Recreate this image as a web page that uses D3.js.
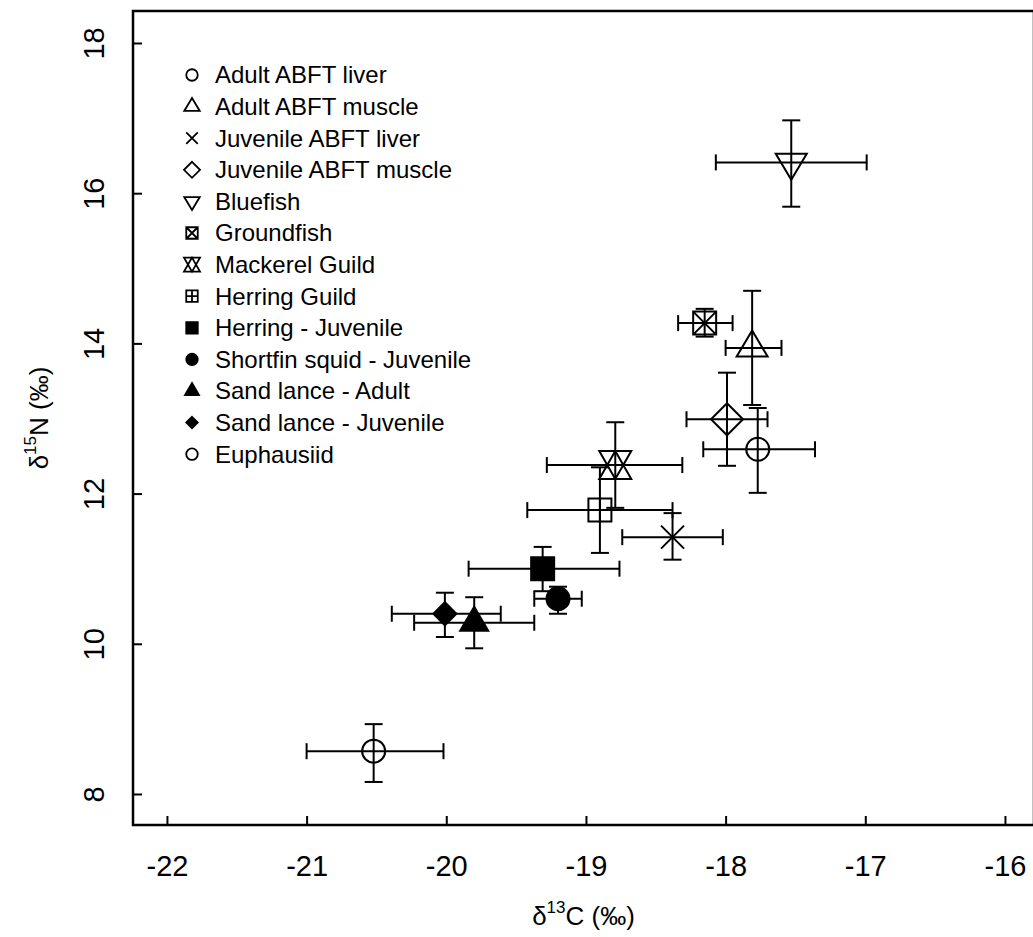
<!DOCTYPE html>
<html>
<head>
<meta charset="utf-8">
<script src="https://cdn.jsdelivr.net/npm/d3@7"></script>
<style>
  body { margin: 0; background: #fff; }
  svg { display: block; font-family: "Liberation Sans", Arial, sans-serif; }
</style>
</head>
<body>
<svg id="chart" width="1033" height="937"></svg>
<script>
// groups, in legend order
const groups = ["Adult ABFT liver", "Adult ABFT muscle", "Juvenile ABFT liver", "Juvenile ABFT muscle",
  "Bluefish", "Groundfish", "Mackerel Guild", "Herring Guild", "Herring - Juvenile",
  "Shortfin squid - Juvenile", "Sand lance - Adult", "Sand lance - Juvenile", "Euphausiid"];
const shapes = ["circle", "triangle", "cross", "diamond", "triDown", "sqX", "hexTri", "sqPlus",
  "sqFill", "circFill", "triFill", "diaFill", "circle"];

// means (per mil)
const d13C = [-17.77, -17.81, -18.38, -17.99, -17.53, -18.15, -18.79, -18.90, -19.31, -19.20, -19.80, -20.01, -20.52];
const d15N = [12.59, 13.94, 11.42, 12.99, 16.41, 14.27, 12.38, 11.78, 11.00, 10.60, 10.28, 10.40, 8.57];
// error bar ends
const cLo = [-18.16, -18.00, -18.74, -18.28, -18.07, -18.34, -19.28, -19.42, -19.84, -19.37, -20.23, -20.39, -21.00];
const cHi = [-17.36, -17.60, -18.02, -17.70, -16.99, -17.95, -18.31, -18.38, -18.76, -19.03, -19.37, -19.61, -20.02];
const nLo = [12.01, 13.18, 11.12, 12.37, 15.82, 14.09, 11.81, 11.21, 10.70, 10.40, 9.94, 10.09, 8.16];
const nHi = [13.14, 14.70, 11.74, 13.61, 16.97, 14.46, 12.95, 12.35, 11.29, 10.76, 10.62, 10.68, 8.93];

const xTicks = [-22, -21, -20, -19, -18, -17, -16];
const yTicks = [8, 10, 12, 14, 16, 18];

const box = {left: 133, right: 1034, top: 11, bottom: 825};

const x = d3.scaleLinear().domain([-22.243, -15.792]).range([box.left, box.right]);
const y = d3.scaleLinear().domain([7.587, 18.426]).range([box.bottom, box.top]);

const svg = d3.select("#chart");
const lw = 2;
const fmt = d => String(d); // plain hyphen minus, like the original

// plot frame
svg.append("rect")
  .attr("x", box.left).attr("y", box.top)
  .attr("width", box.right - box.left).attr("height", box.bottom - box.top)
  .attr("fill", "none").attr("stroke", "#000").attr("stroke-width", 2.5);

// axes with inward ticks
const xAxis = svg.append("g")
  .attr("transform", `translate(0,${box.bottom})`)
  .call(d3.axisBottom(x).tickValues(xTicks).tickSize(-9).tickPadding(30).tickFormat(fmt));
xAxis.select(".domain").remove();
xAxis.selectAll("line").attr("stroke-width", lw);
xAxis.selectAll("text").attr("font-size", 29).attr("font-family", "Liberation Sans, Arial, sans-serif");

const yAxis = svg.append("g")
  .attr("transform", `translate(${box.left},0)`)
  .call(d3.axisLeft(y).tickValues(yTicks).tickSize(-9).tickFormat(fmt));
yAxis.select(".domain").remove();
yAxis.selectAll("line").attr("stroke-width", lw);
yAxis.selectAll("text").remove();
yAxis.selectAll(".tick").append("text")
  .attr("transform", "translate(-39,0) rotate(-90)")
  .attr("text-anchor", "middle")
  .attr("dy", "0.35em")
  .attr("fill", "#000")
  .attr("font-size", 29)
  .attr("font-family", "Liberation Sans, Arial, sans-serif")
  .text(fmt);

// axis titles
const xt = svg.append("text")
  .attr("x", (box.left + box.right) / 2).attr("y", 925)
  .attr("text-anchor", "middle").attr("font-size", 26);
xt.append("tspan").text("δ");
xt.append("tspan").attr("font-size", 17).attr("dy", -12).text("13");
xt.append("tspan").attr("dy", 12).text("C (‰)");

const yt = svg.append("text")
  .attr("transform", `translate(48,${(box.top + box.bottom) / 2}) rotate(-90)`)
  .attr("text-anchor", "middle").attr("font-size", 26);
yt.append("tspan").text("δ");
yt.append("tspan").attr("font-size", 17).attr("dy", -12).text("15");
yt.append("tspan").attr("dy", 12).text("N (‰)");

// symbol paths, R pch style; s scales the whole glyph
function symbolPath(shape, s) {
  const R = 11.5 * s;
  const p = d3.path();
  const tri = (dir, w, h) => {
    p.moveTo(0, -dir * h * 2 / 3);
    p.lineTo(w / 2, dir * h / 3);
    p.lineTo(-w / 2, dir * h / 3);
    p.closePath();
  };
  switch (shape) {
    case "circle": case "circFill":
      p.arc(0, 0, R, 0, 2 * Math.PI); break;
    case "triangle":
      tri(1, 31 * s, 26 * s); break;
    case "triFill":
      tri(1, 28 * s, 24 * s); break;
    case "triDown":
      tri(-1, 31 * s, 26 * s); break;
    case "cross":
      p.moveTo(-R, -R); p.lineTo(R, R); p.moveTo(R, -R); p.lineTo(-R, R); break;
    case "diamond": {
      const d = 16 * s;
      p.moveTo(0, -d); p.lineTo(d, 0); p.lineTo(0, d); p.lineTo(-d, 0); p.closePath(); break;
    }
    case "diaFill": {
      const d = 11.5 * s;
      p.moveTo(0, -d); p.lineTo(d, 0); p.lineTo(0, d); p.lineTo(-d, 0); p.closePath(); break;
    }
    case "sqX": case "sqPlus": case "sqFill":
      p.rect(-R, -R, 2 * R, 2 * R);
      if (shape === "sqX") { p.moveTo(-R, -R); p.lineTo(R, R); p.moveTo(R, -R); p.lineTo(-R, R); }
      if (shape === "sqPlus") { p.moveTo(0, -R); p.lineTo(0, R); p.moveTo(-R, 0); p.lineTo(R, 0); }
      break;
    case "hexTri": {
      const w = 16 * s, h = 14 * s;
      p.moveTo(0, -h); p.lineTo(w, h); p.lineTo(-w, h); p.closePath();
      p.moveTo(0, h); p.lineTo(w, -h); p.lineTo(-w, -h); p.closePath();
      break;
    }
  }
  return p.toString();
}
const isFilled = sh => /Fill$/.test(sh);

// points table
const pts = groups.map((g, i) => ({
  name: g, shape: shapes[i], cx: d13C[i], cy: d15N[i],
  c0: cLo[i], c1: cHi[i], n0: nLo[i], n1: nHi[i]
}));

const cap = 8;
const bars = svg.append("g").attr("stroke", "#000").attr("stroke-width", lw);
pts.forEach(d => {
  const px = x(d.cx), py = y(d.cy);
  bars.append("line").attr("x1", x(d.c0)).attr("x2", x(d.c1)).attr("y1", py).attr("y2", py);
  bars.append("line").attr("x1", x(d.c0)).attr("x2", x(d.c0)).attr("y1", py - cap).attr("y2", py + cap);
  bars.append("line").attr("x1", x(d.c1)).attr("x2", x(d.c1)).attr("y1", py - cap).attr("y2", py + cap);
  bars.append("line").attr("x1", px).attr("x2", px).attr("y1", y(d.n0)).attr("y2", y(d.n1));
  bars.append("line").attr("x1", px - cap - 1).attr("x2", px + cap + 1).attr("y1", y(d.n0)).attr("y2", y(d.n0));
  bars.append("line").attr("x1", px - cap - 1).attr("x2", px + cap + 1).attr("y1", y(d.n1)).attr("y2", y(d.n1));
});

svg.append("g").selectAll("path")
  .data(pts)
  .join("path")
  .attr("transform", d => `translate(${x(d.cx)},${y(d.cy)})`)
  .attr("d", d => symbolPath(d.shape, 1))
  .attr("fill", d => isFilled(d.shape) ? "#000" : "none")
  .attr("stroke", "#000")
  .attr("stroke-width", lw);

// legend
const leg = svg.append("g").attr("transform", "translate(192,75)");
const rows = leg.selectAll("g")
  .data(pts)
  .join("g")
  .attr("transform", (d, i) => `translate(0,${i * 31.6})`);
rows.append("path")
  .attr("d", d => symbolPath(d.shape, 0.5))
  .attr("fill", d => isFilled(d.shape) ? "#000" : "none")
  .attr("stroke", "#000")
  .attr("stroke-width", 1.8);
rows.append("text")
  .attr("x", 23).attr("dy", "0.35em")
  .attr("font-size", 24)
  .text(d => d.name);
</script>
</body>
</html>
